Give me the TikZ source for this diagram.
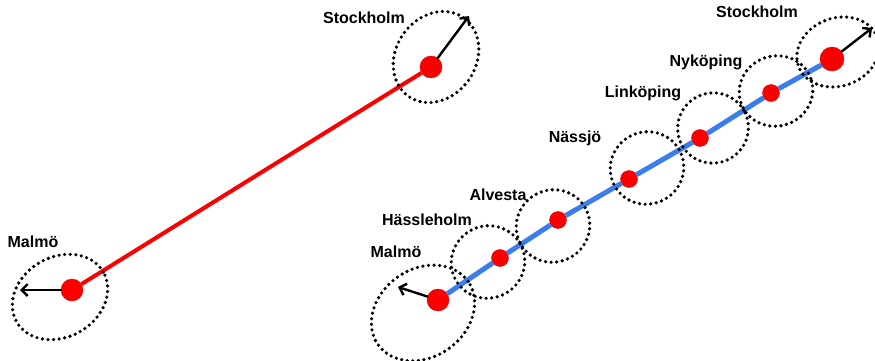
\documentclass[tikz,border=0pt]{standalone}
\usepackage{fontspec}
\setmainfont{Liberation Sans}
\usetikzlibrary{shapes.geometric,arrows.meta}
\definecolor{routeblue}{RGB}{59,125,235}
\definecolor{dotred}{RGB}{250,0,0}
\tikzset{
  city/.style={circle,fill=dotred,draw=dotred!85!black,line width=0.4pt,inner sep=0pt,minimum size=#1},
  zone/.style={ellipse,draw=black,line width=3.6pt,dash pattern=on 0pt off 5.6pt,line cap=round,inner sep=0pt},
  lbl/.style={font=\fontsize{16}{19}\selectfont\bfseries,inner sep=0pt},
  dir/.style={-{Straight Barb[length=6pt,width=12pt,line width=2.4pt]},line width=2.4pt,line cap=round}
}
\begin{document}
\begin{tikzpicture}[x=1pt,y=-1pt]
\useasboundingbox (0,0) rectangle (875,361);

% --- single direct link ---
\node[city=22pt] (lm) at (72,290) {};
\node[city=22pt] (ls) at (431,67) {};
\draw[dotred,line width=4pt] (lm) -- (ls);
\node[zone,minimum width=100pt,minimum height=80pt,rotate=30] (lmz) at (60,297) {};
\node[zone,minimum width=96pt,minimum height=80pt,rotate=55] (lsz) at (436,57) {};
\coordinate (lmtip) at (20,290);
\coordinate (lstip) at (469,16);
\draw[dir] (lm) -- (lmtip);
\draw[dir] (ls) -- (lstip);
\node[lbl] (lmt) at (33,242) {Malmö};
\node[lbl] (lst) at (364,18) {Stockholm};

% --- chain of intermediate stops ---
\node[city=22pt] (r1) at (438,300) {};
\node[city=17pt] (r2) at (500,258) {};
\node[city=17pt] (r3) at (558,220) {};
\node[city=17pt] (r4) at (629,179) {};
\node[city=17pt] (r5) at (700,138) {};
\node[city=17pt] (r6) at (771,93) {};
\node[city=24pt] (r7) at (832,59) {};
\draw[routeblue,line width=5pt] (r1) -- (r2) -- (r3) -- (r4) -- (r5) -- (r6) -- (r7);
\node[zone,minimum width=110pt,minimum height=88pt,rotate=35] (z1) at (423,313) {};
\node[zone,minimum width=74pt,minimum height=72pt,rotate=30] (z2) at (488,262) {};
\node[zone,minimum width=74pt,minimum height=72pt,rotate=30] (z3) at (553,226) {};
\node[zone,minimum width=74pt,minimum height=72pt,rotate=30] (z4) at (647,168) {};
\node[zone,minimum width=71pt,minimum height=70pt,rotate=30] (z5) at (713,128) {};
\node[zone,minimum width=74pt,minimum height=70pt,rotate=20] (z6) at (776,91) {};
\node[zone,minimum width=84pt,minimum height=68pt,rotate=20] (z7) at (838,52) {};
\coordinate (r1tip) at (398,287);
\coordinate (r7tip) at (872,28);
\draw[dir] (r1) -- (r1tip);
\draw[dir] (r7) -- (r7tip);
\node[lbl] (t1) at (396,252) {Malmö};
\node[lbl] (t2) at (427,220) {Hässleholm};
\node[lbl] (t3) at (498,195) {Alvesta};
\node[lbl] (t4) at (575,138) {Nässjö};
\node[lbl] (t5) at (643,93) {Linköping};
\node[lbl] (t6) at (706,62) {Nyköping};
\node[lbl] (t7) at (757,12) {Stockholm};
\end{tikzpicture}
\end{document}
